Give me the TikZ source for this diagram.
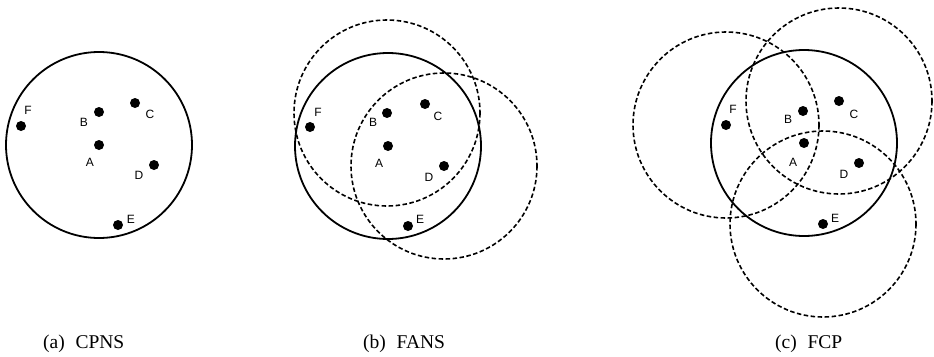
\documentclass[tikz,border=0pt]{standalone}
\usepackage{fontspec}
\setmainfont{Liberation Serif}
\newfontfamily\labelfont{Liberation Sans}
\begin{document}
\begin{tikzpicture}[x=1pt,y=-1pt,
  site/.style={circle,fill=black,inner sep=0pt,minimum size=10pt},
  lbl/.style={font=\labelfont\fontsize{12}{12}\selectfont,inner sep=0pt},
  ownrange/.style={line width=1.8pt},
  nbrrange/.style={line width=1.6pt,dash pattern=on 4.5pt off 2.5pt},
  captxt/.style={font=\fontsize{19.5}{20}\selectfont,inner sep=0pt,anchor=base west}]
\useasboundingbox (0,0) rectangle (934,356);
\def\rr{93}

% ---------- (a) CPNS ----------
\node[site] (aA) at (99,145) {};
\node[site] (aB) at (99,112) {};
\node[site] (aC) at (135,103) {};
\node[site] (aD) at (154,165) {};
\node[site] (aE) at (118,225) {};
\node[site] (aF) at (21,126) {};
\node[lbl] (laA) at (90,162) {A};
\node[lbl] (laB) at (84,122) {B};
\node[lbl] (laC) at (150,114) {C};
\node[lbl] (laD) at (139,175) {D};
\node[lbl] (laE) at (131,219) {E};
\node[lbl] (laF) at (28,110) {F};
\draw[ownrange] (aA) circle[radius=\rr];
\node[captxt] (capa) at (43,348) {(a)\hspace{0.55em}CPNS};

% ---------- (b) FANS ----------
\node[site] (bA) at (388,146) {};
\node[site] (bB) at (387,113) {};
\node[site] (bC) at (425,104) {};
\node[site] (bD) at (444,166) {};
\node[site] (bE) at (408,226) {};
\node[site] (bF) at (310,127) {};
\node[lbl] (lbA) at (379,163) {A};
\node[lbl] (lbB) at (373,122) {B};
\node[lbl] (lbC) at (438,116) {C};
\node[lbl] (lbD) at (429,177) {D};
\node[lbl] (lbE) at (420,219) {E};
\node[lbl] (lbF) at (318,112) {F};
\draw[ownrange] (bA) circle[radius=\rr];
\draw[nbrrange] (bB) circle[radius=\rr];
\draw[nbrrange] (bD) circle[radius=\rr];
\node[captxt] (capb) at (363,348) {(b)\hspace{0.55em}FANS};

% ---------- (c) FCP ----------
\node[site] (cA) at (804,143) {};
\node[site] (cB) at (803,111) {};
\node[site] (cC) at (839,101) {};
\node[site] (cD) at (859,163) {};
\node[site] (cE) at (823,224) {};
\node[site] (cF) at (726,125) {};
\node[lbl] (lcA) at (793,162) {A};
\node[lbl] (lcB) at (788,119) {B};
\node[lbl] (lcC) at (854,114) {C};
\node[lbl] (lcD) at (844,174) {D};
\node[lbl] (lcE) at (835,218) {E};
\node[lbl] (lcF) at (733,109) {F};
\draw[ownrange] (cA) circle[radius=\rr];
\draw[nbrrange] (cF) circle[radius=\rr];
\draw[nbrrange] (cC) circle[radius=\rr];
\draw[nbrrange] (cE) circle[radius=\rr];
\node[captxt] (capc) at (775,348) {(c)\hspace{0.55em}FCP};
\end{tikzpicture}
\end{document}
